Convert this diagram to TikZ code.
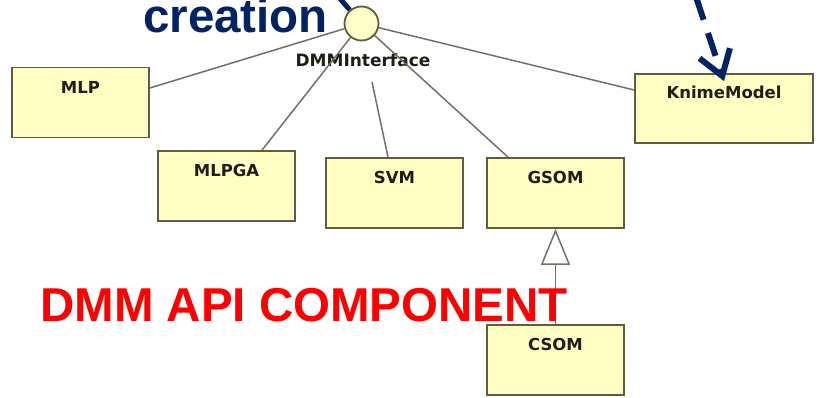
\documentclass[tikz,border=0pt]{standalone}
\usepackage{fontspec}
\setmainfont{Liberation Sans}
\newfontfamily\umlfont{DejaVu Sans}
\usetikzlibrary{arrows.meta}
\definecolor{boxfill}{RGB}{255,255,196}
\definecolor{boxedge}{RGB}{100,90,65}
\definecolor{linkgrey}{RGB}{120,110,100}
\definecolor{ifacefill}{RGB}{255,255,200}
\definecolor{labelink}{RGB}{30,30,20}
\definecolor{calloutblue}{RGB}{0,35,100}
\definecolor{titlered}{RGB}{255,0,0}
\begin{document}
\begin{tikzpicture}[x=1pt,y=-1pt,
  classbox/.style={draw=boxedge, fill=boxfill, line width=1.7pt,
    minimum width=137pt, inner xsep=0pt, inner ysep=0pt,
    text height=25.5pt, text depth=44.5pt,
    font=\umlfont\bfseries\fontsize{16.5}{18}\selectfont, text=labelink},
  assoc/.style={draw=linkgrey, line width=1.5pt},
  callout/.style={draw=calloutblue, line width=6pt},
  bigtext/.style={anchor=base west, inner sep=0pt,
    font=\bfseries\fontsize{47.5}{50}\selectfont}]
  \useasboundingbox (0,0) rectangle (821,397);
  \fill[white] (0,0) rectangle (821,397);

  % provided interface
  \node[circle, draw=boxedge, fill=ifacefill, line width=1.8pt,
        minimum size=34pt, inner sep=0pt] (iface) at (361.5,23.5) {};
  \node[font=\umlfont\bfseries\fontsize{17}{19}\selectfont, text=labelink,
        inner sep=0pt] (ifacelabel) at (363,60) {DMMInterface};

  % implementing classes
  \node[classbox] (mlp)   at (80.5,102.5) {MLP};
  \node[classbox] (mlpga) at (226.5,186)  {MLPGA};
  \node[classbox] (svm)   at (394.5,193)  {SVM};
  \node[classbox] (gsom)  at (555.5,193)  {GSOM};
  \node[classbox] (csom)  at (555.5,360)  {CSOM};
  \node[classbox, minimum width=178pt, text height=24.5pt, text depth=44.5pt]
        (knime) at (724,108.5) {KnimeModel};

  % realisation links
  \draw[assoc] (iface) -- ([yshift=14.5pt]mlp.east);
  \draw[assoc] (iface) -- ([xshift=35.5pt]mlpga.north);
  \coordinate (svmtail) at (372,82);
  \draw[assoc] (svmtail) -- ([xshift=-6.5pt]svm.north);
  \draw[assoc] (iface) -- ([xshift=-47.5pt]gsom.north);
  \draw[assoc] (iface) -- ([yshift=18.5pt]knime.west);

  % generalisation
  \draw[assoc, -{Triangle[open, length=36pt, width=29pt, fill=white]}]
        (csom) -- (gsom);

  % callout arrows
  \coordinate (tailstart) at (336,-6);
  \draw[callout, line width=5pt] (tailstart) -- (iface);
  \coordinate (dashstart) at (696,-3);
  \draw[callout, dash pattern=on 24pt off 14pt,
        -{Straight Barb[length=24pt, width=32pt]}]
        (dashstart) -- ([yshift=-8pt]knime.north);

  % captions
  \node[bigtext, text=calloutblue] (creation) at (143,32) {creation};
  \node[bigtext, text=titlered] (apititle) at (40,321) {DMM API COMPONENT};
\end{tikzpicture}
\end{document}
